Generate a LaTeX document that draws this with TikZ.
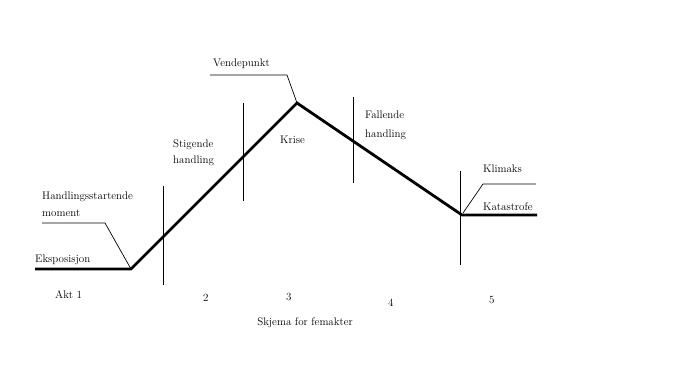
\documentclass[tikz,border=0pt]{standalone}
\begin{document}
\begin{tikzpicture}[x=1pt, y=-1pt,
    curve/.style = {line width=2.8pt, line join=miter},
    thinline/.style = {line width=0.7pt},
    lbl/.style = {anchor=base west, inner sep=0pt, font=\fontsize{11}{13}\selectfont}]
    \useasboundingbox (0,0) rectangle (683,384);
    % the five acts
    \coordinate (start) at (35,269);
    \coordinate (rise) at (131,269);
    \coordinate (peak) at (297,103);
    \coordinate (fall) at (462,215);
    \coordinate (stop) at (537,215);
    \draw[curve] (start) -- (rise) -- (peak) -- (fall) -- (stop);
    % dividers between the acts
    \foreach \x/\a/\b in {163/186/285, 243/103/201, 353/97/183, 460/171/265}
       {\draw[thinline] (\x,\a) -- (\x,\b);}
    % labels
    \node[lbl] (eks) at (35,262) {Eksposisjon};
    \node[lbl] (hand) at (42,199) {Handlingsstartende};
    \node[lbl] (mom) at (42,216) {moment};
    \node[lbl] (stig) at (173,147) {Stigende};
    \node[lbl] (stigh) at (173,163) {handling};
    \node[lbl] (vend) at (213,66) {Vendepunkt};
    \node[lbl] (krise) at (280,143) {Krise};
    \node[lbl] (fal) at (365,118) {Fallende};
    \node[lbl] (falh) at (365,137) {handling};
    \node[lbl] (klim) at (483,172) {Klimaks};
    \node[lbl] (kata) at (483,210) {Katastrofe};
    % leaders
    \coordinate (h1) at (42,223);
    \coordinate (h2) at (105,223);
    \draw[thinline] (h1) -- (h2) -- (rise);
    \coordinate (v1) at (210,75);
    \coordinate (v2) at (287,75);
    \draw[thinline] (v1) -- (v2) -- (peak);
    \coordinate (k1) at (536,184);
    \coordinate (k2) at (483,184);
    \draw[thinline] (k1) -- (k2) -- (463,213);
    % act numbers
    \node[lbl] (akt1) at (55,298) {Akt 1};
    \node[lbl] (akt2) at (203,301) {2};
    \node[lbl] (akt3) at (286,300) {3};
    \node[lbl] (akt4) at (388,306) {4};
    \node[lbl] (akt5) at (489,303) {5};
    \node[lbl, anchor=base] (title) at (305,325) {Skjema for femakter};
\end{tikzpicture}
\end{document}
